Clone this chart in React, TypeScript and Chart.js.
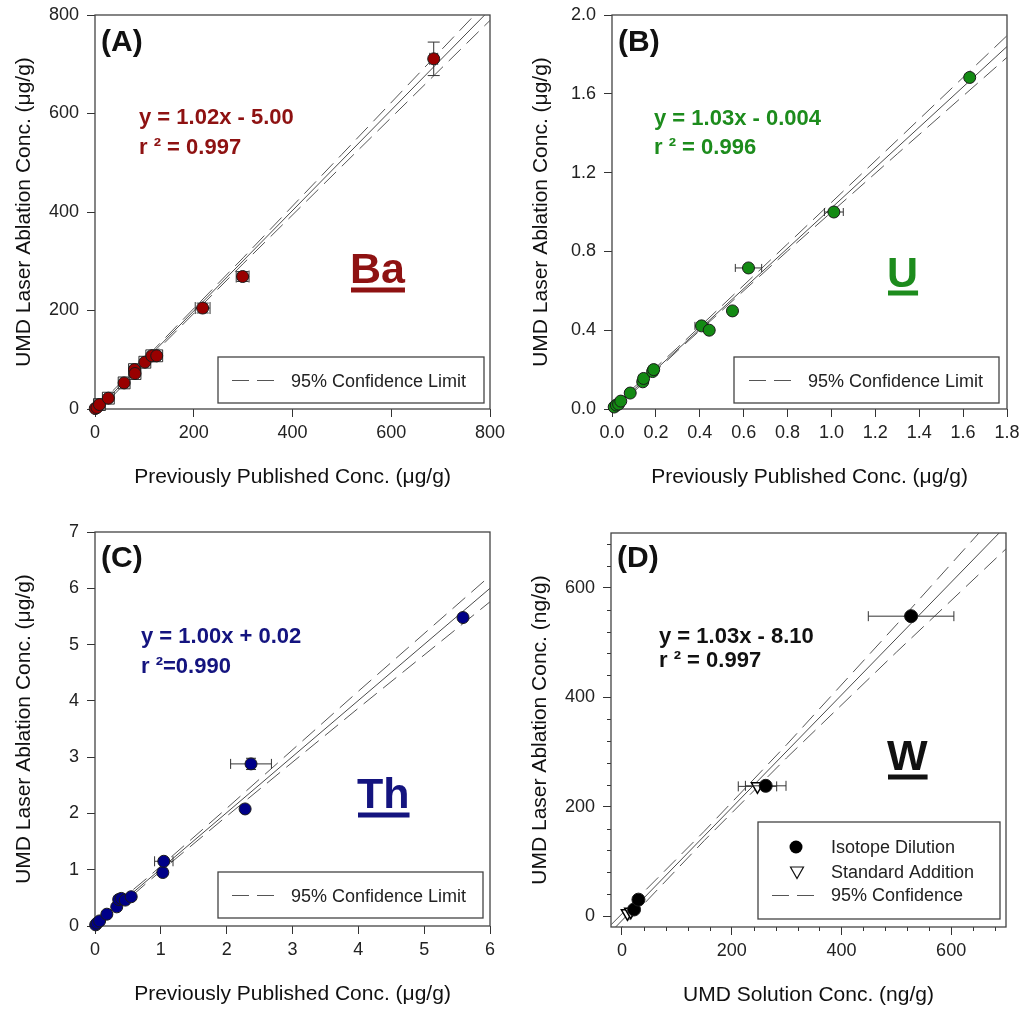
import React, { useEffect, useRef } from 'react';
import { Chart, registerables } from 'chart.js';
Chart.register(...registerables);

const FONT = "'Liberation Sans', Arial, Helvetica, sans-serif";

// ---------- Panel A : Ba ----------
const baX = [0.5, 4, 9, 27, 59, 80, 81, 101, 115, 125, 218, 299, 686];
const baY = [1, 3, 9, 22, 53, 80, 72, 95, 108, 108, 205, 269, 711];
const baErrX = [3, 3, 12, 12, 12, 12, 12, 12, 12, 12, 15, 13, 8];
const baErrY = [3, 3, 12, 12, 12, 12, 12, 12, 12, 12, 10, 10, 34];
const baFitX = [0, 800];
const baFitY = [-5, 811];
const baCiX = [0, 100, 300, 500, 800];
const baCiUp = [1, 101, 307, 517, 833];
const baCiLo = [-11, 93, 295, 493, 789];
const baTicks = [0, 200, 400, 600, 800];

// ---------- Panel B : U ----------
const uX = [0.01, 0.02, 0.03, 0.04, 0.083, 0.14, 0.144, 0.185, 0.19, 0.408, 0.443, 0.549, 0.622, 1.011, 1.63];
const uY = [0.01, 0.02, 0.025, 0.04, 0.081, 0.138, 0.155, 0.19, 0.2, 0.422, 0.4, 0.498, 0.716, 1.0, 1.683];
const uErrX = [0, 0, 0, 0, 0, 0.01, 0.01, 0.02, 0.02, 0.03, 0, 0, 0.06, 0.043, 0.01];
const uErrY = [0, 0, 0, 0, 0, 0, 0, 0, 0, 0, 0, 0, 0, 0, 0];
const uFitX = [0, 1.8];
const uFitY = [-0.004, 1.84];
const uCiX = [0, 0.3, 0.8, 1.3, 1.8];
const uCiUp = [0.008, 0.313, 0.838, 1.365, 1.895];
const uCiLo = [-0.016, 0.297, 0.802, 1.295, 1.785];
const uTicksX = [0, 0.2, 0.4, 0.6, 0.8, 1.0, 1.2, 1.4, 1.6, 1.8];
const uTicksY = [0, 0.4, 0.8, 1.2, 1.6, 2.0];

// ---------- Panel C : Th ----------
const thX = [0.01, 0.03, 0.07, 0.18, 0.33, 0.36, 0.4, 0.46, 0.55, 1.03, 1.045, 2.28, 2.37, 5.59];
const thY = [0.02, 0.05, 0.09, 0.21, 0.34, 0.47, 0.49, 0.46, 0.52, 0.95, 1.15, 2.08, 2.88, 5.48];
const thErrX = [0, 0, 0, 0, 0, 0, 0, 0, 0, 0, 0.14, 0, 0.31, 0];
const thErrY = [0, 0, 0, 0, 0, 0, 0, 0, 0, 0, 0, 0, 0.1, 0];
const thFitX = [0, 6];
const thFitY = [0.02, 6.0];
const thCiX = [0, 0.8, 2, 4, 6];
const thCiUp = [0.08, 0.86, 2.09, 4.17, 6.22];
const thCiLo = [-0.04, 0.78, 1.95, 3.87, 5.76];
const thTicksX = [0, 1, 2, 3, 4, 5, 6];
const thTicksY = [0, 1, 2, 3, 4, 5, 6, 7];

// ---------- Panel D : W ----------
const wIdX = [22, 30, 262, 527];
const wIdY = [12, 30, 238, 548];
const wIdErrX = [0, 0, 37, 78];
const wIdErrY = [0, 0, 5, 0];
const wSaX = [10, 16, 247];
const wSaY = [5, 8, 237];
const wSaErrX = [0, 0, 35];
const wSaErrY = [0, 0, 0];
const wFitX = [-20, 700];
const wFitY = [-28.7, 712.9];
const wCiX = [-20, 150, 300, 500, 700];
const wCiUp = [-16, 155, 313, 532, 755];
const wCiLo = [-41, 138, 289, 482, 671];
const wTicks = [0, 200, 400, 600];
const wMinor = [40, 80, 120, 160, 240, 280, 320, 360, 440, 480, 520, 560, 640, 680];

const pts = (xs: number[], ys: number[]) => xs.map((x, i) => ({ x, y: ys[i] }));

const Y_W = 95;
const X_H = 82;
const PLOT_W = 395;
const PLOT_H = 394;
const PAD_TOP = 15;

function axis(isX: boolean, min: number, max: number, ticks: number[], fmt: (v: number) => string, title: string) {
  return {
    type: 'linear',
    position: isX ? 'bottom' : 'left',
    min,
    max,
    afterBuildTicks: (s: any) => {
      s.ticks = ticks.map((v) => ({ value: v }));
    },
    afterFit: (s: any) => {
      if (isX) s.height = X_H;
      else s.width = Y_W;
      s.paddingLeft = 0;
      s.paddingRight = 0;
      s.paddingTop = 0;
      s.paddingBottom = 0;
    },
    grid: { display: true, drawOnChartArea: false, drawTicks: true, tickLength: 8, tickColor: '#333', tickWidth: 1 },
    border: { display: false },
    ticks: {
      callback: (v: any) => fmt(Number(v)),
      font: { family: FONT, size: 18 },
      color: '#222',
      padding: isX ? 5 : 8,
      maxRotation: 0,
      autoSkip: false,
    },
    title: {
      display: true,
      text: title,
      font: { family: FONT, size: 21 },
      color: '#111',
      padding: isX ? { top: 0, bottom: 1 } : { top: 12, bottom: 0 },
    },
  };
}

type TextItem = { t: string; x: number; y: number; size: number; bold?: boolean; color: string; underline?: number };
type LegItem = { kind: 'dash' | 'circle' | 'tri'; sx: number; sy: number; t: string; tx: number; ty: number };
type Decor = {
  texts: TextItem[];
  box: [number, number, number, number];
  legend: LegItem[];
  minorX?: number[];
  minorY?: number[];
  cap?: number;
};

function makeDecor(cfg: Decor) {
  return {
    id: 'decor',
    beforeDatasetsDraw(chart: any) {
      const { ctx, chartArea: a } = chart;
      ctx.save();
      ctx.strokeStyle = '#333';
      ctx.lineWidth = 1;
      const xs = chart.scales.x;
      const ys = chart.scales.y;
      (cfg.minorX || []).forEach((v) => {
        const p = Math.round(xs.getPixelForValue(v)) + 0.5;
        ctx.beginPath();
        ctx.moveTo(p, a.bottom);
        ctx.lineTo(p, a.bottom + 4);
        ctx.stroke();
      });
      (cfg.minorY || []).forEach((v) => {
        const p = Math.round(ys.getPixelForValue(v)) + 0.5;
        ctx.beginPath();
        ctx.moveTo(a.left, p);
        ctx.lineTo(a.left - 4, p);
        ctx.stroke();
      });
      ctx.strokeStyle = '#444';
      ctx.lineWidth = 1.3;
      ctx.strokeRect(a.left, a.top, a.right - a.left, a.bottom - a.top);
      ctx.restore();
    },
    beforeDatasetDraw(chart: any, args: any) {
      const ds = chart.data.datasets[args.index];
      if (!ds.errX && !ds.errY) return;
      const { ctx } = chart;
      const xs = chart.scales.x;
      const ys = chart.scales.y;
      ctx.save();
      ctx.strokeStyle = '#333';
      ctx.lineWidth = 1;
      const cap = cfg.cap || 5;
      ds.data.forEach((p: any, i: number) => {
        const px = xs.getPixelForValue(p.x);
        const py = ys.getPixelForValue(p.y);
        const ex = (ds.errX && ds.errX[i]) || 0;
        const ey = (ds.errY && ds.errY[i]) || 0;
        if (ex) {
          const l = xs.getPixelForValue(p.x - ex);
          const r = xs.getPixelForValue(p.x + ex);
          ctx.beginPath();
          ctx.moveTo(l, py);
          ctx.lineTo(r, py);
          ctx.moveTo(l, py - cap);
          ctx.lineTo(l, py + cap);
          ctx.moveTo(r, py - cap);
          ctx.lineTo(r, py + cap);
          ctx.stroke();
        }
        if (ey) {
          const t = ys.getPixelForValue(p.y + ey);
          const b = ys.getPixelForValue(p.y - ey);
          ctx.beginPath();
          ctx.moveTo(px, t);
          ctx.lineTo(px, b);
          ctx.moveTo(px - cap, t);
          ctx.lineTo(px + cap, t);
          ctx.moveTo(px - cap, b);
          ctx.lineTo(px + cap, b);
          ctx.stroke();
        }
      });
      ctx.restore();
    },
    afterDatasetsDraw(chart: any) {
      const { ctx, chartArea: a } = chart;
      ctx.save();
      cfg.texts.forEach((it) => {
        ctx.font = `${it.bold ? 'bold ' : ''}${it.size}px ${FONT}`;
        ctx.fillStyle = it.color;
        ctx.textAlign = 'left';
        ctx.textBaseline = 'alphabetic';
        const x = a.left + it.x;
        const y = a.top + it.y;
        ctx.fillText(it.t, x, y);
        if (it.underline !== undefined) {
          const w = ctx.measureText(it.t).width;
          ctx.fillRect(x + 1, a.top + it.underline - 2.5, w - 1, 5);
        }
      });
      const [bx, by, bw, bh] = cfg.box;
      ctx.fillStyle = '#fff';
      ctx.fillRect(a.left + bx, a.top + by, bw, bh);
      ctx.strokeStyle = '#444';
      ctx.lineWidth = 1.3;
      ctx.strokeRect(a.left + bx, a.top + by, bw, bh);
      cfg.legend.forEach((it) => {
        const sx = a.left + it.sx;
        const sy = a.top + it.sy;
        if (it.kind === 'dash') {
          ctx.save();
          ctx.strokeStyle = '#555';
          ctx.lineWidth = 1;
          ctx.setLineDash([17, 8]);
          ctx.beginPath();
          ctx.moveTo(sx, sy + 0.5);
          ctx.lineTo(sx + 42, sy + 0.5);
          ctx.stroke();
          ctx.restore();
        } else if (it.kind === 'circle') {
          ctx.fillStyle = '#000';
          ctx.beginPath();
          ctx.arc(sx, sy, 6.5, 0, Math.PI * 2);
          ctx.fill();
        } else {
          ctx.fillStyle = '#fff';
          ctx.strokeStyle = '#111';
          ctx.lineWidth = 1.2;
          ctx.beginPath();
          ctx.moveTo(sx - 6.5, sy - 5);
          ctx.lineTo(sx + 6.5, sy - 5);
          ctx.lineTo(sx, sy + 6.5);
          ctx.closePath();
          ctx.fill();
          ctx.stroke();
        }
        ctx.font = `18px ${FONT}`;
        ctx.fillStyle = '#222';
        ctx.textAlign = 'left';
        ctx.textBaseline = 'alphabetic';
        ctx.fillText(it.t, a.left + it.tx, a.top + it.ty);
      });
      ctx.restore();
    },
  };
}

const lineDs = (xs: number[], ys: number[], dashed: boolean) => ({
  type: 'scatter',
  data: pts(xs, ys),
  showLine: true,
  pointRadius: 0,
  borderColor: dashed ? '#555' : '#4a4a4a',
  borderWidth: 1,
  borderDash: dashed ? [17, 8] : [],
  fill: false,
});

const scatterDs = (xs: number[], ys: number[], ex: number[], ey: number[], color: string, extra: any = {}) => ({
  type: 'scatter',
  data: pts(xs, ys),
  errX: ex,
  errY: ey,
  pointRadius: 6,
  pointHoverRadius: 6,
  pointBackgroundColor: color,
  pointBorderColor: '#1a1a1a',
  pointBorderWidth: 1,
  clip: false,
  ...extra,
});

type PanelCfg = {
  left: number;
  top: number;
  W: number;
  H: number;
  datasets: any[];
  x: any;
  y: any;
  decor: Decor;
};

const ugTitle = 'UMD Laser Ablation Conc. (\u03bcg/g)';
const ppTitle = 'Previously Published Conc. (\u03bcg/g)';

const BA_C = '#8e1212';
const U_C = '#1d8c1d';
const TH_C = '#14147f';

const legendSimple = (dy: number): LegItem[] => [
  { kind: 'dash', sx: 137, sy: 365 + dy, t: '95% Confidence Limit', tx: 196, ty: 372 + dy },
];

const panels: PanelCfg[] = [
  {
    left: 0,
    top: 0,
    W: 511,
    H: 505,
    datasets: [
      scatterDs(baX, baY, baErrX, baErrY, '#990000'),
      lineDs(baFitX, baFitY, false),
      lineDs(baCiX, baCiUp, true),
      lineDs(baCiX, baCiLo, true),
    ],
    x: axis(true, 0, 800, baTicks, (v) => String(v), ppTitle),
    y: axis(false, 0, 800, baTicks, (v) => String(v), ugTitle),
    decor: {
      texts: [
        { t: '(A)', x: 6, y: 36, size: 30, bold: true, color: '#111' },
        { t: 'y = 1.02x - 5.00', x: 44, y: 109, size: 22, bold: true, color: BA_C },
        { t: 'r \u00b2 = 0.997', x: 44, y: 139, size: 22, bold: true, color: BA_C },
        { t: 'Ba', x: 255, y: 268, size: 43, bold: true, color: BA_C, underline: 275 },
      ],
      box: [123, 342, 266, 46],
      legend: legendSimple(0),
      cap: 6,
    },
  },
  {
    left: 517,
    top: 0,
    W: 505,
    H: 505,
    datasets: [
      scatterDs(uX, uY, uErrX, uErrY, '#138a13'),
      lineDs(uFitX, uFitY, false),
      lineDs(uCiX, uCiUp, true),
      lineDs(uCiX, uCiLo, true),
    ],
    x: axis(true, 0, 1.8, uTicksX, (v) => v.toFixed(1), ppTitle),
    y: axis(false, 0, 2.0, uTicksY, (v) => v.toFixed(1), ugTitle),
    decor: {
      texts: [
        { t: '(B)', x: 6, y: 36, size: 30, bold: true, color: '#111' },
        { t: 'y = 1.03x - 0.004', x: 42, y: 110, size: 22, bold: true, color: U_C },
        { t: 'r \u00b2 = 0.996', x: 42, y: 139, size: 22, bold: true, color: U_C },
        { t: 'U', x: 275, y: 272, size: 43, bold: true, color: U_C, underline: 278 },
      ],
      box: [122, 342, 265, 46],
      legend: legendSimple(0),
      cap: 4,
    },
  },
  {
    left: 0,
    top: 517,
    W: 511,
    H: 492,
    datasets: [
      scatterDs(thX, thY, thErrX, thErrY, '#000088'),
      lineDs(thFitX, thFitY, false),
      lineDs(thCiX, thCiUp, true),
      lineDs(thCiX, thCiLo, true),
    ],
    x: axis(true, 0, 6, thTicksX, (v) => String(v), ppTitle),
    y: axis(false, 0, 7, thTicksY, (v) => String(v), ugTitle),
    decor: {
      texts: [
        { t: '(C)', x: 6, y: 35, size: 30, bold: true, color: '#111' },
        { t: 'y = 1.00x + 0.02', x: 46, y: 111, size: 22, bold: true, color: TH_C },
        { t: 'r \u00b2=0.990', x: 46, y: 141, size: 22, bold: true, color: TH_C },
        { t: 'Th', x: 262, y: 276, size: 43, bold: true, color: TH_C, underline: 283 },
      ],
      box: [123, 340, 265, 46],
      legend: legendSimple(-2),
      cap: 5,
    },
  },
  {
    left: 516,
    top: 518,
    W: 506,
    H: 491,
    datasets: [
      scatterDs(wIdX, wIdY, wIdErrX, wIdErrY, '#000', { pointRadius: 6.5, pointHoverRadius: 6.5 }),
      scatterDs(wSaX, wSaY, wSaErrX, wSaErrY, '#fff', {
        pointStyle: 'triangle',
        rotation: 180,
        pointRadius: 7,
        pointHoverRadius: 7,
        pointBorderColor: '#000',
        pointBorderWidth: 1.5,
      }),
      lineDs(wFitX, wFitY, false),
      lineDs(wCiX, wCiUp, true),
      lineDs(wCiX, wCiLo, true),
    ],
    x: axis(true, -20, 700, wTicks, (v) => String(v), 'UMD Solution Conc. (ng/g)'),
    y: axis(false, -20, 700, wTicks, (v) => String(v), 'UMD Laser Ablation Conc. (ng/g)'),
    decor: {
      texts: [
        { t: '(D)', x: 6, y: 34, size: 30, bold: true, color: '#111' },
        { t: 'y = 1.03x - 8.10', x: 48, y: 110, size: 22, bold: true, color: '#111' },
        { t: 'r \u00b2 = 0.997', x: 48, y: 134, size: 22, bold: true, color: '#111' },
        { t: 'W', x: 276, y: 237, size: 43, bold: true, color: '#111', underline: 244 },
      ],
      box: [147, 289, 242, 97],
      legend: [
        { kind: 'circle', sx: 185, sy: 314, t: 'Isotope Dilution', tx: 220, ty: 320 },
        { kind: 'tri', sx: 186, sy: 339, t: 'Standard Addition', tx: 220, ty: 345 },
        { kind: 'dash', sx: 161, sy: 362, t: '95% Confidence', tx: 220, ty: 368 },
      ],
      minorX: wMinor,
      minorY: wMinor,
      cap: 5,
    },
  },
];

function Panel({ cfg }: { cfg: PanelCfg }) {
  const ref = useRef<HTMLCanvasElement | null>(null);
  useEffect(() => {
    if (!ref.current) return;
    const chart = new Chart(ref.current, {
      type: 'scatter',
      data: { datasets: cfg.datasets },
      options: {
        responsive: false,
        animation: false,
        events: [],
        layout: {
          padding: {
            top: PAD_TOP,
            left: 0,
            right: cfg.W - Y_W - PLOT_W,
            bottom: cfg.H - PAD_TOP - PLOT_H - X_H,
          },
        },
        plugins: { legend: { display: false }, tooltip: { enabled: false } },
        scales: { x: cfg.x, y: cfg.y },
      } as any,
      plugins: [makeDecor(cfg.decor) as any],
    } as any);
    return () => chart.destroy();
  }, [cfg]);
  return (
    <canvas
      ref={ref}
      width={cfg.W}
      height={cfg.H}
      style={{ position: 'absolute', left: cfg.left, top: cfg.top, width: cfg.W, height: cfg.H }}
    />
  );
}

export default function App() {
  return (
    <div style={{ position: 'absolute', left: 0, top: 0, width: 1022, height: 1009, background: '#fff', overflow: 'hidden' }}>
      {panels.map((p, i) => (
        <Panel key={i} cfg={p} />
      ))}
    </div>
  );
}
